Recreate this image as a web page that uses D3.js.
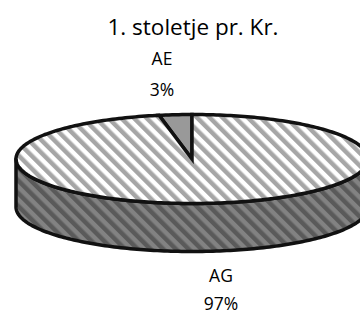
<!DOCTYPE html>
<html>
<head>
<meta charset="utf-8">
<script src="https://cdn.jsdelivr.net/npm/d3@7"></script>
<style>
  body { margin: 0; background: #fff; }
  text { font-family: "Open Sans", Lato, sans-serif; fill: #000; }
</style>
</head>
<body>
<svg id="chart" width="360" height="312"></svg>
<script>
// podatki
var title = "1. stoletje pr. Kr.";
var categories = ["AE", "AG"];
var values = [3, 97];
var percentLabels = ["3%", "97%"];

var svg = d3.select("#chart");
var cx = 192, cy = 159, rx = 176, ry = 44.5, depth = 48;

// vzorci (črtkano polnilo)
var defs = svg.append("defs");
function stripes(id, bg, fg) {
  var p = defs.append("pattern")
    .attr("id", id)
    .attr("patternUnits", "userSpaceOnUse")
    .attr("width", 9).attr("height", 9)
    .attr("patternTransform", "rotate(-45)");
  p.append("rect").attr("width", 9).attr("height", 9).attr("fill", bg);
  p.append("rect").attr("width", 4.5).attr("height", 9).attr("fill", fg);
}
stripes("topStripes", "#ffffff", "#a6a6a6");
stripes("sideStripes", "#828282", "#5a5a5a");

var total = d3.sum(values);
var pie = d3.pie().sort(null)
  .startAngle(-2 * Math.PI * values[0] / total)
  .endAngle(2 * Math.PI - 2 * Math.PI * values[0] / total);
var arcs = pie(values);

function pt(a, dy) {
  return [cx + rx * Math.sin(a), cy - ry * Math.cos(a) + (dy || 0)];
}
function arcPoints(a0, a1, dy) {
  var n = Math.max(2, Math.ceil(Math.abs(a1 - a0) / 0.02));
  return d3.range(n + 1).map(function(i) { return pt(a0 + (a1 - a0) * i / n, dy); });
}
var line = d3.line();

// stranska stena (spredaj)
var sideA0 = Math.PI / 2, sideA1 = 3 * Math.PI / 2;
var sidePts = arcPoints(sideA0, sideA1, 0).concat(arcPoints(sideA1, sideA0, depth));
svg.append("path")
  .attr("d", line(sidePts) + "Z")
  .attr("fill", "url(#sideStripes)")
  .attr("stroke", "#111")
  .attr("stroke-width", 3.5)
  .attr("stroke-linejoin", "round");

// zgornja ploskev
var fills = ["#999999", "url(#topStripes)"];
svg.selectAll("path.slice")
  .data(arcs)
  .enter()
  .append("path")
  .attr("class", "slice")
  .attr("d", function(d) {
    return line([[cx, cy]].concat(arcPoints(d.startAngle, d.endAngle, 0))) + "Z";
  })
  .attr("fill", function(d, i) { return fills[i]; })
  .attr("stroke", "#111")
  .attr("stroke-width", 3.5)
  .attr("stroke-linejoin", "miter");

// naslov
svg.append("text")
  .attr("x", 193).attr("y", 35)
  .attr("text-anchor", "middle")
  .style("font-size", "22.5px")
  .text(title);

// oznake
var labelPos = [[162, 65, 96], [221, 282, 310]];
categories.forEach(function(c, i) {
  var t = svg.append("text")
    .attr("text-anchor", "middle")
    .style("font-size", "17.5px");
  t.append("tspan").attr("x", labelPos[i][0]).attr("y", labelPos[i][1]).text(c);
  t.append("tspan").attr("x", labelPos[i][0]).attr("y", labelPos[i][2]).text(percentLabels[i]);
});
</script>
</body>
</html>
